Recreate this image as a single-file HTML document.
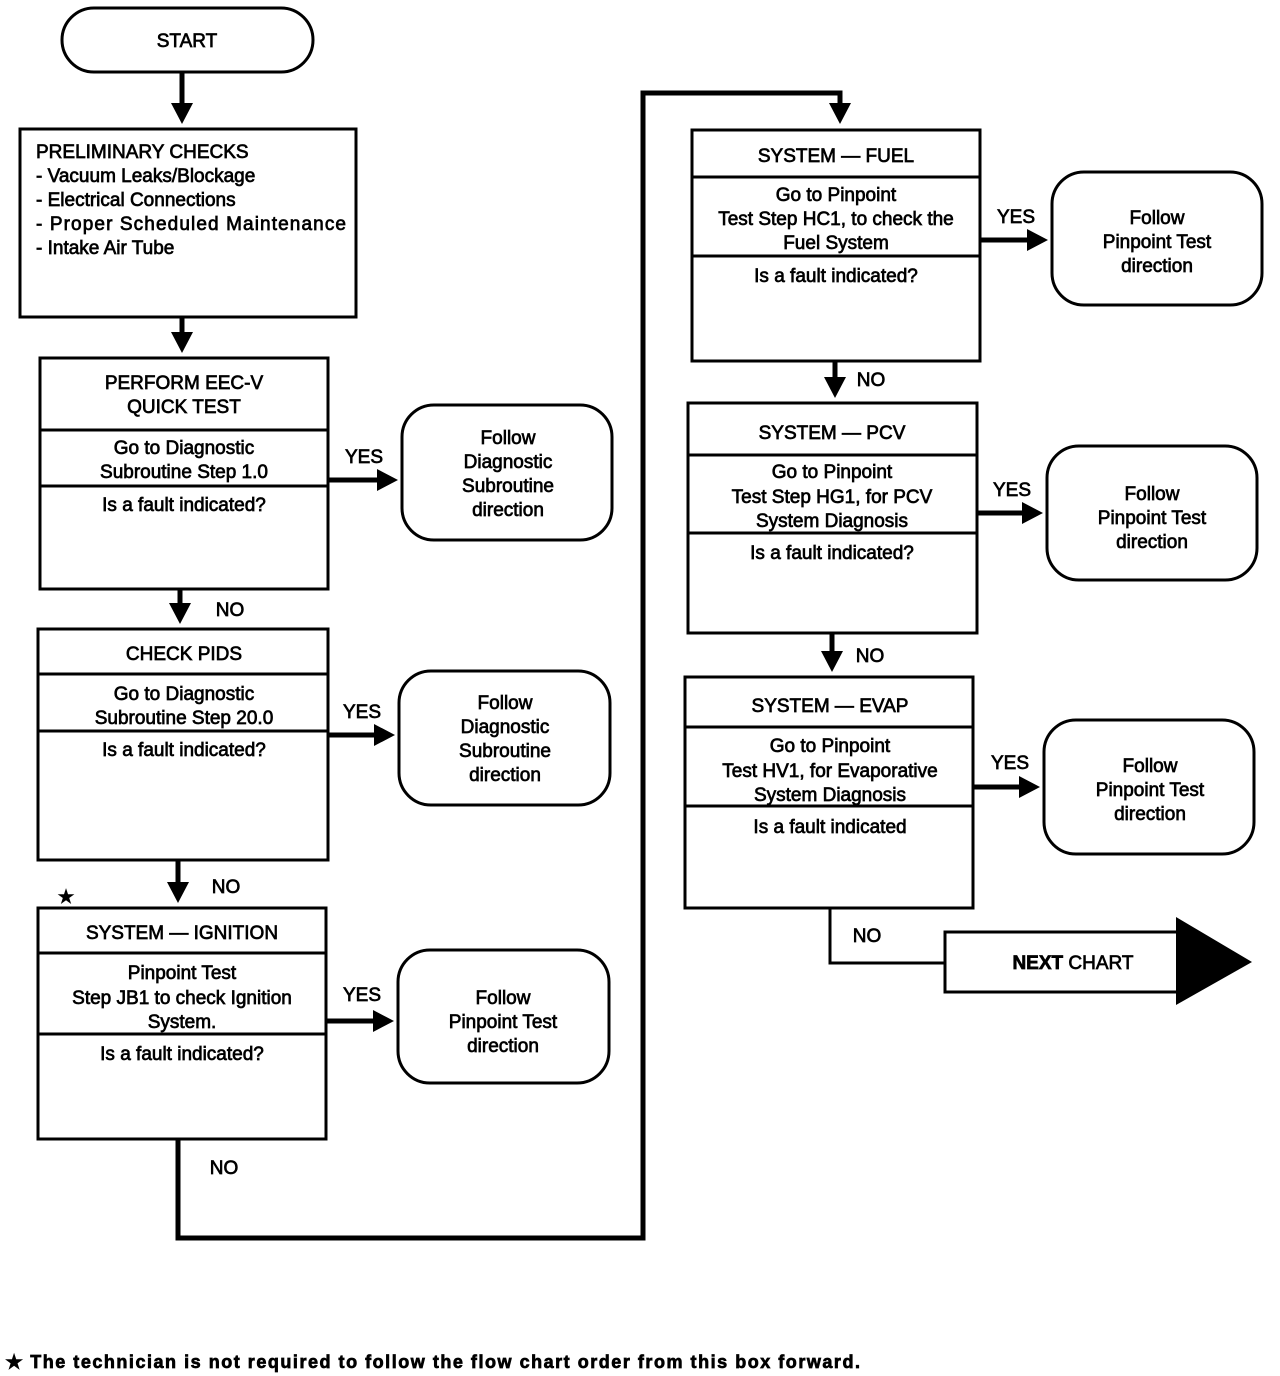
<!DOCTYPE html>
<html><head><meta charset="utf-8"><style>
body{margin:0;background:#fff}
svg{display:block}
text{font-family:"Liberation Sans",sans-serif;font-size:19px;fill:#000;stroke:#000;stroke-width:0.7}
.c{text-anchor:middle}
</style></head><body>
<svg width="1280" height="1376" viewBox="0 0 1280 1376" xmlns="http://www.w3.org/2000/svg">
<defs><marker id="a" markerWidth="22" markerHeight="22" refX="4" refY="11" orient="auto" markerUnits="userSpaceOnUse"><path d="M0,0 L21,11 L0,22Z" fill="#000" stroke="none"/></marker></defs>
<g fill="none" stroke="#000" stroke-width="3">
<rect x="62" y="8" width="251" height="64" rx="32"/>
<rect x="20" y="129" width="336" height="188"/>
<rect x="40" y="358" width="288" height="231"/><line x1="40" y1="430" x2="328" y2="430"/><line x1="40" y1="486" x2="328" y2="486"/>
<rect x="402" y="405" width="210" height="135" rx="32"/>
<rect x="38" y="629" width="290" height="231"/><line x1="38" y1="674" x2="328" y2="674"/><line x1="38" y1="731" x2="328" y2="731"/>
<rect x="399" y="671" width="211" height="134" rx="32"/>
<rect x="38" y="908" width="288" height="231"/><line x1="38" y1="953" x2="326" y2="953"/><line x1="38" y1="1034" x2="326" y2="1034"/>
<rect x="398" y="950" width="211" height="133" rx="32"/>
<rect x="692" y="130" width="288" height="231"/><line x1="692" y1="177" x2="980" y2="177"/><line x1="692" y1="256" x2="980" y2="256"/>
<rect x="1052" y="172" width="210" height="133" rx="32"/>
<rect x="688" y="403" width="289" height="230"/><line x1="688" y1="455" x2="977" y2="455"/><line x1="688" y1="533" x2="977" y2="533"/>
<rect x="1047" y="446" width="210" height="134" rx="32"/>
<rect x="685" y="677" width="288" height="231"/><line x1="685" y1="727" x2="973" y2="727"/><line x1="685" y1="806" x2="973" y2="806"/>
<rect x="1044" y="720" width="210" height="134" rx="32"/>
<rect x="945" y="932" width="233" height="60"/>
<polyline points="830,908 830,963 945,963"/>
</g>
<polygon points="1176,917 1252,962 1176,1005" fill="#000"/>
<g fill="none" stroke="#000" stroke-width="5" marker-end="url(#a)">
<line x1="182" y1="72" x2="182" y2="107"/>
<line x1="182" y1="317" x2="182" y2="336"/>
<line x1="328" y1="480" x2="381" y2="480"/>
<line x1="180" y1="589" x2="180" y2="607"/>
<line x1="328" y1="735" x2="378" y2="735"/>
<line x1="178" y1="860" x2="178" y2="886"/>
<line x1="326" y1="1021" x2="377" y2="1021"/>
<polyline points="178,1139 178,1238 643,1238 643,93 840,93 840,107"/>
<line x1="980" y1="240" x2="1031" y2="240"/>
<line x1="835" y1="361" x2="835" y2="381"/>
<line x1="977" y1="513" x2="1026" y2="513"/>
<line x1="832" y1="633" x2="832" y2="655"/>
<line x1="973" y1="787" x2="1023" y2="787"/>
</g>
<text x="187" y="47" class="c">START</text>
<text x="36" y="158">PRELIMINARY CHECKS</text>
<text x="36" y="182">- Vacuum Leaks/Blockage</text>
<text x="36" y="206">- Electrical Connections</text>
<text x="36" y="230" textLength="310">- Proper Scheduled Maintenance</text>
<text x="36" y="254">- Intake Air Tube</text>
<g class="c">
<text x="184" y="389" class="c">PERFORM EEC-V</text><text x="184" y="413" class="c">QUICK TEST</text>
<text x="184" y="454" class="c">Go to  Diagnostic</text><text x="184" y="478" class="c">Subroutine Step 1.0</text>
<text x="184" y="511" class="c">Is a fault indicated?</text>
<text x="508" y="444" class="c">Follow</text><text x="508" y="468" class="c">Diagnostic</text><text x="508" y="492" class="c">Subroutine</text><text x="508" y="516" class="c">direction</text>
<text x="364" y="463" class="c">YES</text>
<text x="230" y="616" class="c">NO</text>
<text x="184" y="660" class="c">CHECK PIDS</text>
<text x="184" y="700" class="c">Go to  Diagnostic</text><text x="184" y="724" class="c">Subroutine Step 20.0</text>
<text x="184" y="756" class="c">Is a fault indicated?</text>
<text x="505" y="709" class="c">Follow</text><text x="505" y="733" class="c">Diagnostic</text><text x="505" y="757" class="c">Subroutine</text><text x="505" y="781" class="c">direction</text>
<text x="362" y="718" class="c">YES</text>
<text x="226" y="893" class="c">NO</text>
<text x="66" y="903" class="c">★</text>
<text x="182" y="939" class="c">SYSTEM — IGNITION</text>
<text x="182" y="979" class="c">Pinpoint Test</text><text x="182" y="1004" class="c">Step JB1 to check Ignition</text><text x="182" y="1028" class="c">System.</text>
<text x="182" y="1060" class="c">Is a fault indicated?</text>
<text x="503" y="1004" class="c">Follow</text><text x="503" y="1028" class="c">Pinpoint Test</text><text x="503" y="1052" class="c">direction</text>
<text x="362" y="1001" class="c">YES</text>
<text x="224" y="1174" class="c">NO</text>
<text x="836" y="162" class="c">SYSTEM — FUEL</text>
<text x="836" y="201" class="c">Go to  Pinpoint</text><text x="836" y="225" class="c">Test Step HC1, to check the</text><text x="836" y="249" class="c">Fuel System</text>
<text x="836" y="282" class="c">Is a fault indicated?</text>
<text x="1157" y="224" class="c">Follow</text><text x="1157" y="248" class="c">Pinpoint Test</text><text x="1157" y="272" class="c">direction</text>
<text x="1016" y="223" class="c">YES</text>
<text x="871" y="386" class="c">NO</text>
<text x="832" y="439" class="c">SYSTEM — PCV</text>
<text x="832" y="478" class="c">Go to  Pinpoint</text><text x="832" y="503" class="c">Test Step HG1, for PCV</text><text x="832" y="527" class="c">System Diagnosis</text>
<text x="832" y="559" class="c">Is a fault indicated?</text>
<text x="1152" y="500" class="c">Follow</text><text x="1152" y="524" class="c">Pinpoint Test</text><text x="1152" y="548" class="c">direction</text>
<text x="1012" y="496" class="c">YES</text>
<text x="870" y="662" class="c">NO</text>
<text x="830" y="712" class="c">SYSTEM — EVAP</text>
<text x="830" y="752" class="c">Go to  Pinpoint</text><text x="830" y="777" class="c">Test HV1, for Evaporative</text><text x="830" y="801" class="c">System Diagnosis</text>
<text x="830" y="833" class="c">Is a fault indicated</text>
<text x="1150" y="772" class="c">Follow</text><text x="1150" y="796" class="c">Pinpoint Test</text><text x="1150" y="820" class="c">direction</text>
<text x="1010" y="769" class="c">YES</text>
<text x="867" y="942" class="c">NO</text>
<text x="1073" y="969" class="c"><tspan style="font-weight:bold">NEXT</tspan>  CHART</text>
</g>
<text x="6" y="1368" textLength="854" lengthAdjust="spacing" style="font-size:18px;font-weight:bold">★ The technician is not required to follow the flow chart order from this box forward.</text>
</svg>
</body></html>
